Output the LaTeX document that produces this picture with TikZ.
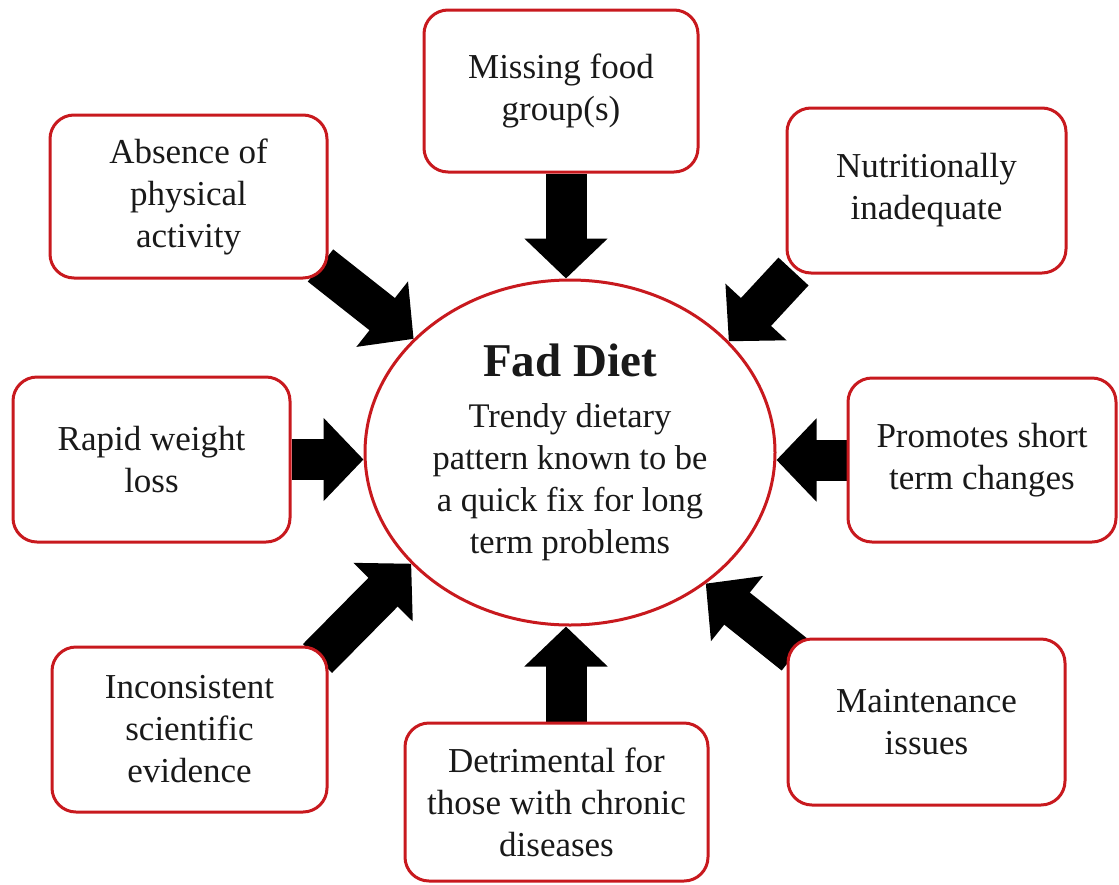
\documentclass[tikz,border=0pt]{standalone}
\usepackage{fontspec}
\setmainfont{Liberation Serif}
\usetikzlibrary{arrows.meta,shapes.geometric,backgrounds}
\definecolor{boxred}{RGB}{200,25,30}
\definecolor{txt}{RGB}{25,25,25}
\begin{document}
\begin{tikzpicture}[x=1pt,y=-1pt,
  box/.style={draw=boxred, line width=3pt, rounded corners=24pt, fill=white,
    align=center, text=txt, font=\fontsize{35}{42}\selectfont, inner sep=0pt},
  bigarrow/.style={black, line width=41pt, -{Triangle[width=81pt,length=40pt]}}]
\useasboundingbox (0,0) rectangle (1119,884);

\node[box, minimum width=277pt, minimum height=163pt] (absence) at (188.5,196.5) {Absence of\\physical\\activity};
\node[box, minimum width=274pt, minimum height=162pt] (missing) at (561,91) {Missing food\\group(s)};
\node[box, minimum width=279pt, minimum height=165pt] (nutri) at (926.5,190.5) {Nutritionally\\inadequate};
\node[box, minimum width=277pt, minimum height=165pt] (rapid) at (151.5,459.5) {Rapid weight\\loss};
\node[box, minimum width=268pt, minimum height=164pt] (promo) at (982,460) {Promotes short\\term changes};
\node[box, minimum width=275pt, minimum height=165pt] (incons) at (189.5,729.5) {Inconsistent\\scientific\\evidence};
\node[box, minimum width=303pt, minimum height=158pt] (detri) at (556.5,802) {Detrimental for\\those with chronic\\diseases};
\node[box, minimum width=277pt, minimum height=166pt] (maint) at (926.5,722) {Maintenance\\issues};

\node[ellipse, draw=boxred, line width=3pt, fill=white, minimum width=410pt, minimum height=345pt,
  inner sep=0pt, align=center, text=txt, font=\fontsize{34.5}{42}\selectfont] (fad) at (570,452.5)
  {{\fontsize{47}{50}\selectfont\bfseries Fad Diet}\\[9pt]Trendy dietary\\pattern known to be\\a quick fix for long\\term problems};

\begin{scope}[on background layer]
\draw[bigarrow] ([xshift=5pt]missing.south) -- ([xshift=-4pt]fad.north);
\draw[bigarrow] ([xshift=9.5pt]detri.north) -- ([xshift=-4pt]fad.south);
\draw[bigarrow] (rapid.east) -- (rapid.east -| fad.west);
\draw[bigarrow] (promo.west) -- (promo.west -| fad.east);
\draw[bigarrow] ([xshift=-8pt,yshift=14pt]absence.south east) -- (fad.144.7);
\draw[bigarrow] ([xshift=8pt,yshift=3pt]nutri.south west) -- (fad.35.7);
\draw[bigarrow] ([xshift=-11pt,yshift=-13pt]incons.north east) -- (fad.-145);
\draw[bigarrow] ([xshift=8pt,yshift=-17pt]maint.north west) -- (fad.-44);
\end{scope}
\end{tikzpicture}
\end{document}
